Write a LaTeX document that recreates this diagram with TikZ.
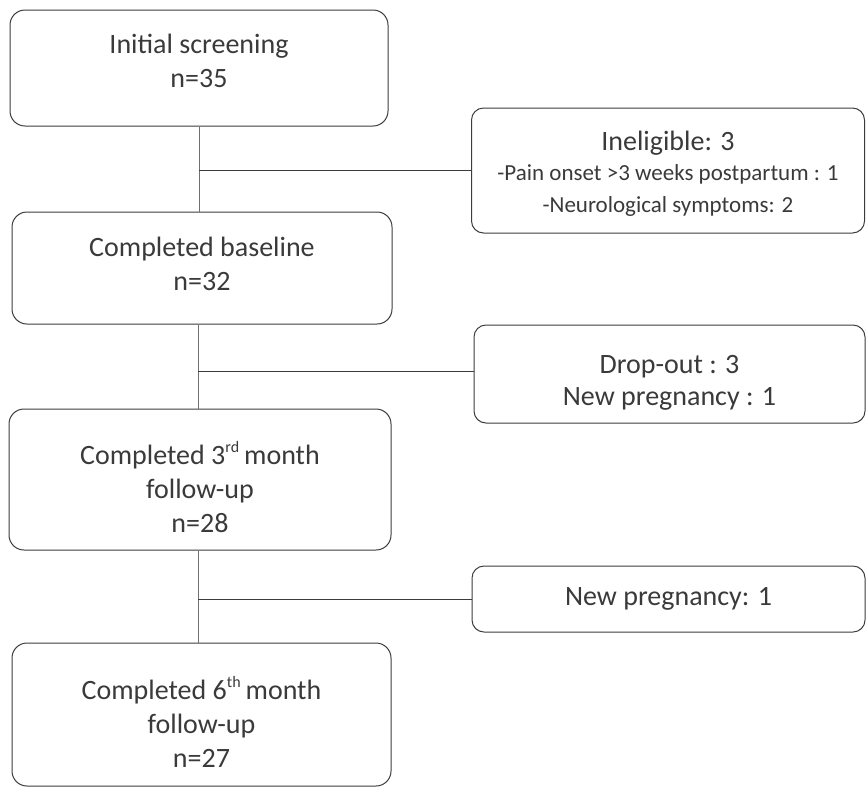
\documentclass[tikz,border=0pt]{standalone}
\usepackage{fontspec}
\setmainfont{Carlito}
\definecolor{ink}{HTML}{3A3A3A}
\definecolor{edge}{HTML}{3C3C3C}
\definecolor{vline}{HTML}{707070}
\newcommand{\supx}[1]{\raisebox{12pt}{\fontsize{16}{16}\selectfont #1}\hspace{5pt}}
\begin{document}
\begin{tikzpicture}[x=1pt,y=-1pt,
  mainbox/.style={draw=edge, line width=1pt, rounded corners=15pt, align=center,
    text=ink, inner sep=0pt, font=\fontsize{28}{34}\selectfont},
  sidebox/.style={draw=edge, line width=1pt, rounded corners=12pt, align=center,
    text=ink, inner sep=0pt, font=\fontsize{28}{32}\selectfont},
  link/.style={draw=edge, line width=0.9pt},
  vlink/.style={draw=vline, line width=0.8pt}]
\useasboundingbox (0,0) rectangle (866,788);
\node[mainbox, minimum width=378pt, minimum height=116pt, text depth=14pt] (s) at (199,68)
  {Initial screening\\n=35};
\node[mainbox, minimum width=380pt, minimum height=112pt, text depth=9pt] (b) at (202,268)
  {Completed baseline\\n=32};
\node[mainbox, minimum width=382pt, minimum height=141pt, text height=107pt] (m3) at (200,479.5)
  {Completed 3\supx{rd}month\\follow-up\\n=28};
\node[mainbox, minimum width=379pt, minimum height=143pt, text height=106pt] (m6) at (201.5,714.5)
  {Completed 6\supx{th}month\\follow-up\\n=27};
\node[sidebox, minimum width=393pt, minimum height=125pt, text height=88pt] (inel) at (668,170.5)
  {Ineligible: 3\\[-2pt]{\fontsize{23}{28}\selectfont -Pain onset >3 weeks postpartum : 1}\\{\fontsize{23}{28}\selectfont -Neurological symptoms: 2}};
\node[sidebox, minimum width=391pt, minimum height=98pt, text height=68pt] (drop) at (669.5,374)
  {Drop-out : 3\\New pregnancy : 1};
\node[sidebox, minimum width=393pt, minimum height=66pt] (np) at (668.5,599)
  {New pregnancy: 1};
\coordinate (j1) at (199,170.5);
\coordinate (j2) at (198,371);
\coordinate (j3) at (198,599);
\draw[vlink] (s.south) -- (s.south |- b.north);
\draw[vlink] (j2 |- b.south) -- (j2 |- m3.north);
\draw[vlink] (j3 |- m3.south) -- (j3 |- m6.north);
\draw[link] (j1) -- (inel.west);
\draw[link] (j2) -- (j2 -| drop.west);
\draw[link] (j3) -- (np.west);
\end{tikzpicture}
\end{document}
